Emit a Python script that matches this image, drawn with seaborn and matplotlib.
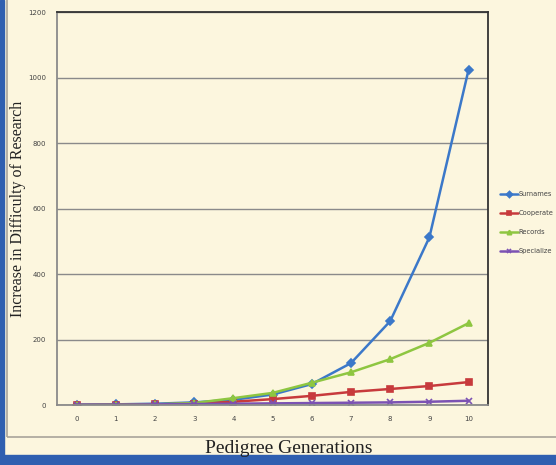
import matplotlib.pyplot as plt
import matplotlib.patches as mpatches
import seaborn as sns
import pandas as pd

generations = [0, 1, 2, 3, 4, 5, 6, 7, 8, 9, 10]
surnames = [1, 2, 4, 8, 16, 32, 64, 128, 256, 512, 1024]
cooperate = [0, 1, 2, 4, 10, 18, 28, 40, 49, 58, 70]
records = [0, 1, 2, 6, 21, 37, 68, 100, 140, 190, 250]
specialize = [1, 1, 2, 3, 4, 5, 6, 7, 8, 10, 13]

series_names = ['Surnames', 'Cooperate', 'Records', 'Specialize']
colors = ['#3b78c9', '#c73a3c', '#8ec641', '#7b52b3']
markers = ['D', 's', '^', 'x']

df = pd.DataFrame({'gen': generations, 'Surnames': surnames, 'Cooperate': cooperate,
                   'Records': records, 'Specialize': specialize})

sns.set_style('white')
bg = '#fcf6de'

fig = plt.figure(figsize=(5.56, 4.65), dpi=100, facecolor=bg)
# blue border strips and light frame round the chart
fig.patches.append(mpatches.Rectangle((0, 0), 1, 0.022, transform=fig.transFigure,
                                      color='#2f5fb0', zorder=0))
fig.patches.append(mpatches.Rectangle((0, 0), 0.007, 1, transform=fig.transFigure,
                                      color='#2f5fb0', zorder=0))
fig.patches.append(mpatches.Rectangle((0.012, 0.06), 0.99, 1.0, transform=fig.transFigure,
                                      fill=False, edgecolor='#a8a49a', lw=1.2, zorder=0))

ax = fig.add_axes([0.1025, 0.129, 0.7755, 0.845])
ax.set_facecolor(bg)

for name, c, m in zip(series_names, colors, markers):
    sns.lineplot(data=df, x='gen', y=name, color=c, marker=m, markersize=4.5,
                 markeredgecolor=c, markeredgewidth=1.2, linewidth=1.8, label=name, ax=ax)

ax.set_xlim(-0.5, 10.5)
ax.set_ylim(0, 1200)
ax.set_xticks(generations)
ax.set_yticks(range(0, 1201, 200))
ax.tick_params(axis='both', labelsize=5, colors='#444444', length=0, pad=8)
ax.yaxis.grid(True, color='#8a8a8a', lw=1)
ax.set_axisbelow(True)
for side in ['top', 'right']:
    ax.spines[side].set_color('#333333')
    ax.spines[side].set_linewidth(1.3)
for side in ['left', 'bottom']:
    ax.spines[side].set_color('#8a8a8a')
    ax.spines[side].set_linewidth(1.3)

ax.set_xlabel('')
ax.set_ylabel('')
fig.text(0.52, 0.018, 'Pedigree Generations', ha='center', va='bottom',
         family='Liberation Serif', fontsize=14, color='#222222')
fig.text(0.032, 0.55, 'Increase in Difficulty of Research', ha='center', va='center',
         rotation=90, family='Liberation Serif', fontsize=11.5, color='#222222')

leg = ax.legend(loc='upper left', bbox_to_anchor=(1.028, 0.545), frameon=False,
                fontsize=4.8, handlelength=2.6, handletextpad=0.15, labelspacing=1.95,
                borderaxespad=0, borderpad=0, markerscale=0.7)
for t in leg.get_texts():
    t.set_color('#444444')

fig.savefig('out.png', dpi=100, facecolor=bg)
